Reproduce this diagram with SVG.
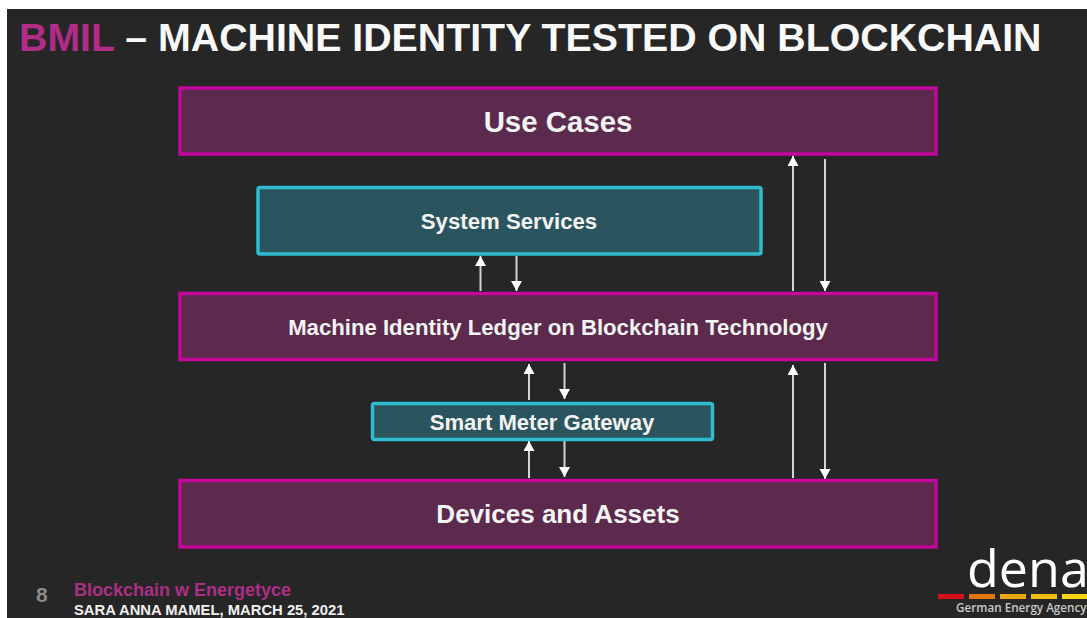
<svg xmlns="http://www.w3.org/2000/svg" width="1087" height="618" viewBox="0 0 1087 618">
<style>
.sans{font-family:"Liberation Sans",Arial,sans-serif;font-weight:700}
.big{fill:#5c2a4d;stroke:#c4069a;stroke-width:3.5}
.teal{fill:#2a555e;stroke:#2fbcd0;stroke-width:3.5}
.lbl{fill:#f4f4f4;text-anchor:middle}
.conn{stroke:#d4d4d4;stroke-width:2;fill:none}
.tip{fill:#fff}
</style>
<defs>
<marker id="arr" markerUnits="userSpaceOnUse" markerWidth="11" markerHeight="12" refX="10" refY="5.500" orient="auto"><path class="tip" d="M0,0L10,5.500L0,11Z"/></marker>
</defs>
<rect width="1087" height="618" fill="#fff"/>
<rect x="7" y="9" width="1080" height="609" fill="#262626"/>
<g id="title"><text class="sans" x="19" y="51" font-size="39.300" fill="#f9f9f9"><tspan fill="#b12c87">BMIL</tspan> – MACHINE IDENTITY TESTED ON BLOCKCHAIN</text></g>
<g id="connectors">
<path class="conn" marker-end="url(#arr)" d="M793 291V156"/>
<path class="conn" marker-end="url(#arr)" d="M825 159V291"/>
<path class="conn" marker-end="url(#arr)" d="M480.500 291V256"/>
<path class="conn" marker-end="url(#arr)" d="M516.500 256V291"/>
<path class="conn" marker-end="url(#arr)" d="M529 400V364"/>
<path class="conn" marker-end="url(#arr)" d="M564.500 363V399"/>
<path class="conn" marker-end="url(#arr)" d="M529 478V441"/>
<path class="conn" marker-end="url(#arr)" d="M564.500 441V477"/>
<path class="conn" marker-end="url(#arr)" d="M793 478V365"/>
<path class="conn" marker-end="url(#arr)" d="M825 363V479"/>
</g>
<g id="use-cases"><rect class="big" x="180" y="88" width="756" height="66"/><text class="sans lbl" x="558" y="132" font-size="29.400">Use Cases</text></g>
<g id="system-services"><rect class="teal" x="258" y="187.500" width="503" height="66.500" rx="2"/><text class="sans lbl" x="509" y="229" font-size="22.200">System Services</text></g>
<g id="ledger"><rect class="big" x="180" y="293.500" width="756" height="66"/><text class="sans lbl" x="558" y="335" font-size="22.150">Machine Identity Ledger on Blockchain Technology</text></g>
<g id="smart-meter-gateway"><rect class="teal" x="372.500" y="403.500" width="340" height="36" rx="2"/><text class="sans lbl" x="542" y="430" font-size="22.100">Smart Meter Gateway</text></g>
<g id="devices-assets"><rect class="big" x="180" y="480.500" width="756" height="66.500"/><text class="sans lbl" x="558" y="523" font-size="26">Devices and Assets</text></g>
<g id="footer">
<text class="sans" x="36" y="602" font-size="21" fill="#8c8c8c">8</text>
<text class="sans" x="74" y="596" font-size="18" fill="#ac2f85">Blockchain w Energetyce</text>
<text class="sans" x="74" y="615" font-size="14.800" fill="#f0f0f0">SARA ANNA MAMEL, MARCH 25, 2021</text>
</g>
<g id="logo">
<text x="967" y="587" font-family="'Open Sans','Noto Sans',sans-serif" font-size="52" fill="#fff">dena</text>
<rect x="938" y="594" width="26" height="5" fill="#d5101c"/>
<rect x="969" y="594" width="26" height="5" fill="#e2770f"/>
<rect x="1000" y="594" width="26" height="5" fill="#eda512"/>
<rect x="1031" y="594" width="26" height="5" fill="#f5bc12"/>
<rect x="1062" y="594" width="25" height="5" fill="#f7d40f"/>
<text x="956" y="612" font-family="'Open Sans','Noto Sans',sans-serif" font-weight="600" font-size="11.700" fill="#c8c8c8">German Energy Agency</text>
</g>
</svg>
